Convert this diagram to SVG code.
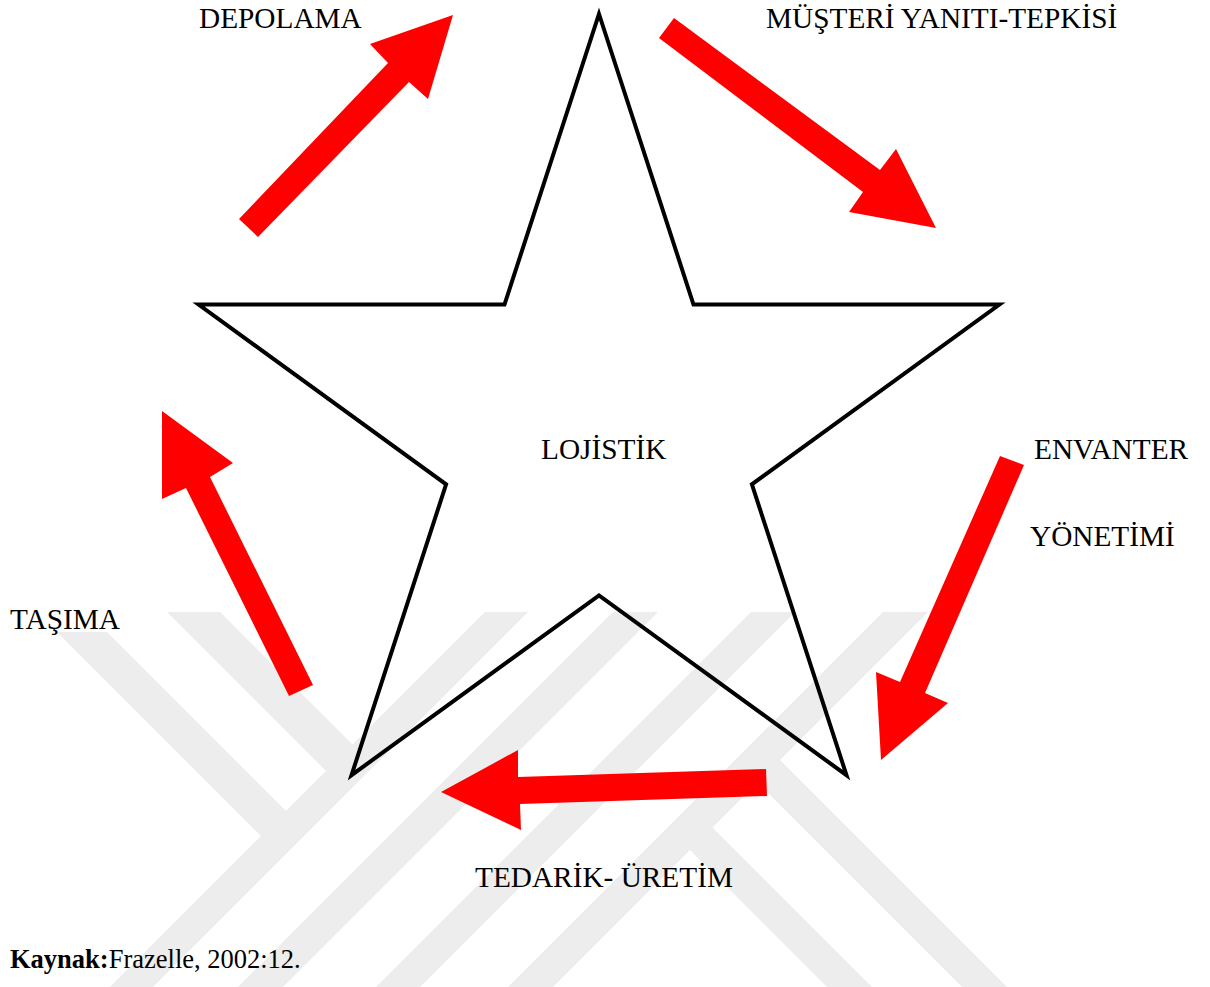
<svg xmlns="http://www.w3.org/2000/svg" width="1210" height="987" viewBox="0 0 1210 987">
  <style>
    .lbl { font-family: "Liberation Serif", "Times New Roman", serif; font-size: 29.3px; fill: #000; }
    .src { font-family: "Liberation Serif", "Times New Roman", serif; font-size: 26.5px; fill: #000; }
    .wm { fill: #ededed; stroke: none; }
    .arrow { fill: #ff0000; stroke: none; }
    .star { fill: none; stroke: #000; stroke-width: 4; stroke-linejoin: miter; }
  </style>
  <defs>
    <clipPath id="wmclip">
      <rect x="0" y="612" width="1210" height="375"/>
    </clipPath>
  </defs>
  <rect x="0" y="0" width="1210" height="987" fill="#fff"/>

  <g id="watermark" clip-path="url(#wmclip)">
    <polygon class="wm" points="497,600 540,600 140,1000 97,1000"/>
    <polygon class="wm" points="625,600 670,600 270,1000 225,1000"/>
    <polygon class="wm" points="763,600 807,600 407,1000 363,1000"/>
    <polygon class="wm" points="895,600 940,600 540,1000 495,1000"/>
    <polygon class="wm" points="155,600 208,600 360,752 333,778"/>
    <polygon class="wm" points="57,632 107,632 292,817 267,842"/>
    <polygon class="wm" points="770,750 1020,1000 975,1000 747.5,772.5"/>
    <polygon class="wm" points="702.5,817.5 885,1000 840,1000 680,840"/>
  </g>

  <g id="node-lojistik">
    <polygon class="star" points="599,14 693.5,304.5 999.4,304.5 751.9,484.3 846.5,775.2 599,595.4 351.5,775.2 446.1,484.3 198.6,304.5 504.5,304.5"/>
    <text class="lbl" x="541" y="459">LOJİSTİK</text>
  </g>

  <g id="node-depolama"><text class="lbl" x="199" y="28">DEPOLAMA</text></g>
  <g id="node-musteri"><text class="lbl" x="766" y="28">MÜŞTERİ YANITI-TEPKİSİ</text></g>
  <g id="node-envanter">
    <text class="lbl" x="1034" y="459">ENVANTER</text>
    <text class="lbl" x="1030" y="546">YÖNETİMİ</text>
  </g>
  <g id="node-tedarik"><text class="lbl" x="475" y="887">TEDARİK- ÜRETİM</text></g>
  <g id="node-tasima"><text class="lbl" x="10" y="629">TAŞIMA</text></g>

  <g id="connectors">
    <polygon class="arrow" points="239,219 388,63 370,44 453,15 428,99 409,82 258,237"/>
    <polygon class="arrow" points="674,18 880,170 896,149 936,228 849,212 863,192 659,38"/>
    <polygon class="arrow" points="1000,456 900,682 876,672 881,760 948,703 925,693 1024,465"/>
    <polygon class="arrow" points="766,769 518,777 518,750 441,792 521,830 520,804 767,796"/>
    <polygon class="arrow" points="313,685 210,477 233,463 162,411 162,499 186,488 289,696"/>
  </g>

  <g id="source">
    <text class="src" x="10" y="968"><tspan font-weight="bold">Kaynak:</tspan>Frazelle, 2002:12.</text>
  </g>
</svg>
